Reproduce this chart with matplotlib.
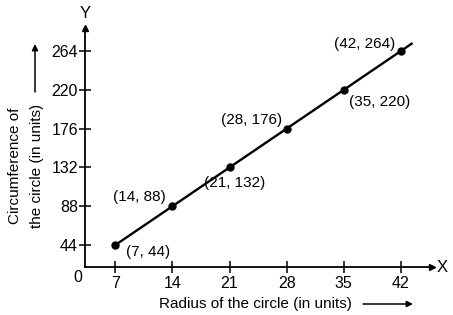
import matplotlib.pyplot as plt

plt.rcParams['font.family'] = ['Liberation Sans', 'DejaVu Sans']

radius = [7, 14, 21, 28, 35, 42]
circumference = [44, 88, 132, 176, 220, 264]
# line is drawn a little past the last point
line_end_x = 43.3
line_end_y = 272.2

# label offsets in points, and alignment, per point
label_offsets = [(8, -5), (-5, 7), (4, -11), (-3, 6), (4, -9), (-4, 5)]
label_align = ['left', 'right', 'center', 'right', 'left', 'right']

fs = 11

fig = plt.figure(figsize=(4.53, 3.15), dpi=100)
ax = fig.add_axes([85 / 453, 48 / 315, (432 - 85) / 453, (267 - 28) / 315])

ax.plot(radius + [line_end_x], circumference + [line_end_y], color='black', lw=1.7)
ax.plot(radius, circumference, 'o', color='black', ms=5)

for x, y, off, ha in zip(radius, circumference, label_offsets, label_align):
    ax.annotate(f'({x}, {y})', (x, y), xytext=off, textcoords='offset points',
                ha=ha, va='center', fontsize=fs)

ax.set_xlim(3.3, 45.8)
ax.set_ylim(19.2, 290)
ax.set_xticks(radius)
ax.set_yticks(circumference)
ax.tick_params(direction='inout', length=8, width=1.1, labelsize=11.5)
ax.tick_params(axis='x', pad=2.5)
ax.tick_params(axis='y', pad=1)
ax.spines['top'].set_visible(False)
ax.spines['right'].set_visible(False)
for s in ['left', 'bottom']:
    ax.spines[s].set_linewidth(1.3)

# axis arrow heads
ax.plot(1, 0, '>', color='black', ms=5, transform=ax.transAxes, clip_on=False)
ax.plot(0, 1, '^', color='black', ms=5, transform=ax.transAxes, clip_on=False)

fig.text(442 / 453, 1 - 268 / 315, 'X', fontsize=12, ha='center', va='center')
fig.text(85 / 453, 1 - 13 / 315, 'Y', fontsize=12, ha='center', va='center')
fig.text(78 / 453, 1 - 277 / 315, '0', fontsize=11.5, ha='center', va='center')

fig.text(255 / 453, 1 - 304 / 315, 'Radius of the circle (in units)',
         fontsize=fs, ha='center', va='center')
fig.text(15 / 453, 1 - 166 / 315, 'Circumference of', fontsize=fs,
         rotation=90, ha='center', va='center')
fig.text(37 / 453, 1 - 166 / 315, 'the circle (in units)', fontsize=fs,
         rotation=90, ha='center', va='center')
ax.annotate('', xy=(413 / 453, 1 - 304 / 315), xytext=(363 / 453, 1 - 304 / 315),
            xycoords='figure fraction',
            arrowprops=dict(arrowstyle='-|>', color='black', lw=1.1, mutation_scale=9,
                            shrinkA=0, shrinkB=0))
ax.annotate('', xy=(35 / 453, 1 - 44 / 315), xytext=(35 / 453, 1 - 92 / 315),
            xycoords='figure fraction',
            arrowprops=dict(arrowstyle='-|>', color='black', lw=1.1, mutation_scale=9,
                            shrinkA=0, shrinkB=0))

fig.savefig('out.png', dpi=100)
